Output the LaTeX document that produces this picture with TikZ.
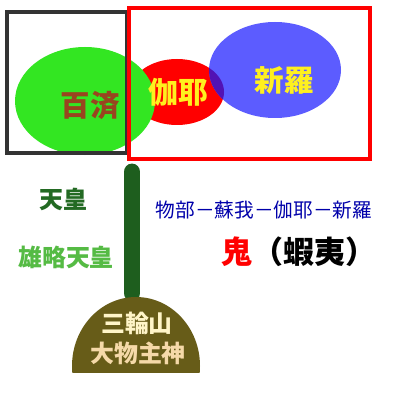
\documentclass[tikz,border=0pt]{standalone}
\usepackage{fontspec}
\newfontfamily\jpfont{Noto Sans CJK JP}
\definecolor{kudara}{HTML}{33E622}
\definecolor{kaya}{HTML}{FF0000}
\definecolor{shiragi}{HTML}{5C5CFF}
\definecolor{kayashiragi}{HTML}{5212B4}
\definecolor{kudaratext}{HTML}{99441F}
\definecolor{namebox}{HTML}{FFF01E}
\definecolor{pillar}{HTML}{1E5E1E}
\definecolor{tenno}{HTML}{236A23}
\definecolor{yuryaku}{HTML}{55BB44}
\definecolor{clan}{HTML}{0000AA}
\definecolor{miwa}{HTML}{675C18}
\definecolor{miwatext}{HTML}{FFF5C8}
\definecolor{kamitext}{HTML}{F5D9A8}

\begin{document}
\begin{tikzpicture}[x = 0.025cm, y = -0.025cm,
  label/.style = {inner sep = 0pt, font = \jpfont\bfseries\fontsize{#1}{#1}\selectfont},
  label/.default = 17pt]
\useasboundingbox [fill=white] (0,0) rectangle (400,400);
% the three kingdoms
\fill [kaya] (177,92) ellipse (47 and 33);
\fill [shiragi] (275,70) ellipse (66 and 48);
\begin{scope}
\clip (177,92) ellipse (47 and 33);
\fill [kayashiragi] (275,70) ellipse (66 and 48);
\end{scope}
\fill [kudara] (85,101) ellipse (70 and 54);
\draw [line width=3.5, black!80] (7,12) rectangle (127,153);
\draw [line width=3.5, kaya] (129,8) rectangle (370,159);
\node [label=21pt, text=kudaratext] (kudara) at (90,105) {百済};
\node [label=21pt, text=namebox] (kaya) at (178,92) {伽耶};
\node [label=21pt, text=namebox] (shiragi) at (284,80) {新羅};
% pillar and mountain
\draw [line width=12, line cap=round, pillar] (132,172) -- (132,293);
\begin{scope}
\clip (60,290) rectangle (210,372);
\fill [miwa] (136,366) ellipse (64 and 69);
\end{scope}
\node [label, text=tenno] (tenno) at (63,199) {天皇};
\node [label, text=yuryaku] (yuryaku) at (66,257) {雄略天皇};
\node [label, text=miwatext] (miwa) at (137,323) {三輪山};
\node [label, text=kamitext] (kami) at (138,353) {大物主神};
% right side
\node [inner sep=0pt, text=clan, font=\jpfont\fontsize{14pt}{14pt}\selectfont] (clans) at (264,210) {物部－蘇我－伽耶－新羅};
\node [label=22pt] (oni) at (299,252) {\textcolor{kaya}{鬼}（蝦夷）};
\end{tikzpicture}
\end{document}
